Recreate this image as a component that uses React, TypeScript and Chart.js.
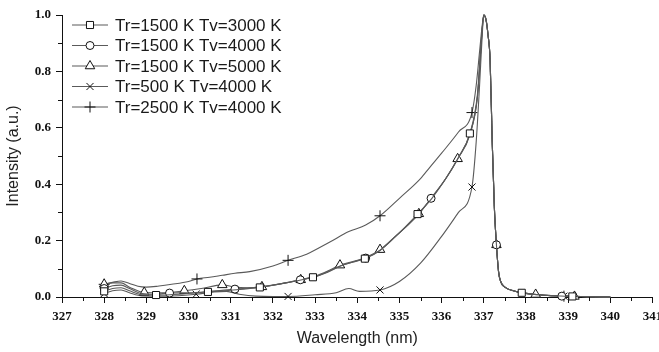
import React, { useEffect, useRef } from 'react';
import { Chart, registerables } from 'chart.js';
import { drawPoint } from 'chart.js/helpers';

Chart.register(...registerables);

type Pt = [number, number];

// Emission band profiles: [wavelength (nm), normalised intensity]
const seriesLabels = [
  'Tr=1500 K Tv=3000 K',
  'Tr=1500 K Tv=4000 K',
  'Tr=1500 K Tv=5000 K',
  'Tr=500 K Tv=4000 K',
  'Tr=2500 K Tv=4000 K',
];

// Shared steep red-side fall-off of the band head
const tailPts: Pt[] = [
  [337.05, 0.985], [337.1, 0.93], [337.15, 0.84], [337.2, 0.55], [337.25, 0.32],
  [337.3, 0.185], [337.35, 0.09], [337.4, 0.055], [337.5, 0.035], [337.7, 0.022],
  [338.0, 0.013], [338.3, 0.008], [338.6, 0.005], [339.3, 0.002], [339.6, 0.001], [340.0, 0],
];

const tr1500tv3000: Pt[] = [
  [328.0, 0.02], [328.2, 0.03], [328.4, 0.033], [328.6, 0.022], [328.9, 0.008],
  [329.23, 0.007], [329.8, 0.01], [330.46, 0.018], [331.0, 0.024], [331.69, 0.034],
  [332.3, 0.05], [332.95, 0.07], [333.3, 0.088], [333.6, 0.11], [333.9, 0.124],
  [334.18, 0.136], [334.54, 0.165], [334.9, 0.213], [335.43, 0.294], [335.77, 0.35],
  [336.1, 0.42], [336.4, 0.495], [336.67, 0.58], [336.85, 0.72], [336.95, 0.93],
  [337.0, 1.0], [337.9, 0.015], [339.1, 0.002],
];
const tr1500tv4000: Pt[] = [
  [328.0, 0.03], [328.2, 0.04], [328.4, 0.042], [328.6, 0.03], [328.9, 0.012],
  [329.2, 0.01], [329.55, 0.014], [330.0, 0.015], [330.5, 0.02], [331.1, 0.028],
  [331.6, 0.034], [332.0, 0.042], [332.3, 0.05], [332.65, 0.061], [333.0, 0.072],
  [333.3, 0.09], [333.6, 0.11], [333.9, 0.124], [334.2, 0.138], [334.54, 0.166],
  [334.9, 0.214], [335.2, 0.255], [335.45, 0.293], [335.75, 0.35], [336.1, 0.42],
  [336.4, 0.495], [336.67, 0.578], [336.85, 0.71], [336.95, 0.92], [337.0, 1.0],
  [338.85, 0.003],
];
const tr1500tv5000: Pt[] = [
  [328.0, 0.045], [328.2, 0.05], [328.4, 0.05], [328.6, 0.035], [328.95, 0.016],
  [329.4, 0.015], [329.9, 0.022], [330.3, 0.03], [330.8, 0.043], [331.1, 0.035],
  [331.4, 0.033], [331.74, 0.036], [332.0, 0.042], [332.3, 0.05], [332.66, 0.061],
  [333.0, 0.074], [333.3, 0.092], [333.59, 0.113], [333.9, 0.126], [334.2, 0.14],
  [334.54, 0.168], [334.9, 0.215], [335.2, 0.256], [335.46, 0.295], [335.75, 0.35],
  [336.1, 0.42], [336.38, 0.49], [336.67, 0.575], [336.85, 0.71], [336.95, 0.92],
  [337.0, 1.0], [338.23, 0.009], [339.15, 0.002],
];
const tr500tv4000: Pt[] = [
  [328.0, 0.012], [328.2, 0.022], [328.4, 0.025], [328.6, 0.015], [328.9, 0.004],
  [329.5, 0.003], [330.18, 0.01], [330.6, 0.018], [330.9, 0.02], [331.2, 0.01],
  [331.6, 0.003], [332.0, 0.002], [332.36, 0.002], [333.0, 0.008], [333.5, 0.015],
  [333.8, 0.03], [334.05, 0.02], [334.54, 0.025], [335.0, 0.055], [335.5, 0.12],
  [336.0, 0.215], [336.4, 0.3], [336.72, 0.39], [336.82, 0.55], [336.9, 0.75],
  [336.96, 0.92], [337.0, 1.0], [338.9, 0.003],
];
const tr2500tv4000: Pt[] = [
  [328.0, 0.045], [328.2, 0.052], [328.4, 0.057], [328.6, 0.048], [328.8, 0.038],
  [329.0, 0.035], [329.3, 0.039], [329.6, 0.045], [330.0, 0.055], [330.2, 0.064],
  [330.5, 0.07], [330.8, 0.077], [331.1, 0.084], [331.45, 0.09], [332.0, 0.11],
  [332.36, 0.13], [332.8, 0.152], [333.35, 0.195], [333.8, 0.232], [334.2, 0.255],
  [334.54, 0.288], [335.0, 0.35], [335.5, 0.42], [335.72, 0.46], [336.0, 0.51],
  [336.4, 0.585], [336.72, 0.654], [336.82, 0.75], [336.9, 0.87], [336.96, 0.96],
  [337.0, 1.0], [338.9, 0.003],
];

// Wavelengths carrying a symbol on each curve
const marks3000 = [328.0, 329.23, 330.46, 331.69, 332.95, 334.18, 335.43, 336.67, 337.9, 339.1];
const marks4000 = [328.0, 329.55, 331.1, 332.65, 334.2, 335.75, 337.3, 338.85];
const marks5000 = [328.0, 328.95, 329.9, 330.8, 331.74, 332.66, 333.59, 334.54, 335.46, 336.38, 337.3, 338.23, 339.15];
const marks500 = [328.0, 330.18, 332.36, 334.54, 336.72, 338.9];
const marks2500 = [328.0, 330.2, 332.36, 334.54, 336.72, 338.9];

const profiles = [tr1500tv3000, tr1500tv4000, tr1500tv5000, tr500tv4000, tr2500tv4000];
const markSets = [marks3000, marks4000, marks5000, marks500, marks2500];
const symbols = ['rect', 'circle', 'triangle', 'crossRot', 'cross'] as const;
const symbolSizes = [5, 4, 5.5, 5, 5.5];

const xTicks = { min: 327, max: 341, step: 1 };
const yTicks = { min: 0, max: 1, step: 0.2 };

const LINE = '#5a5a5a';
const INK = '#111';

function withTail(pts: Pt[]): Pt[] {
  return [...pts, ...tailPts].sort((a, b) => a[0] - b[0]);
}

export default function App() {
  const ref = useRef<HTMLCanvasElement>(null);

  useEffect(() => {
    const canvas = ref.current;
    if (!canvas) return;

    const datasets = profiles.map((pts, i) => {
      const marks = markSets[i];
      return {
        label: seriesLabels[i],
        data: withTail(pts).map(([x, y]) => ({ x, y })),
        borderColor: LINE,
        borderWidth: 1.1,
        cubicInterpolationMode: 'monotone' as const,
        fill: false,
        clip: false as const,
        pointStyle: symbols[i],
        pointRadius: (c: any) =>
          c.raw && marks.some((m) => Math.abs(m - c.raw.x) < 1e-6) ? symbolSizes[i] : 0,
        pointHoverRadius: 0,
        pointBorderColor: INK,
        pointBackgroundColor: '#fff',
        pointBorderWidth: 1,
      };
    });

    const axisExtras = {
      id: 'axisExtras',
      afterDraw(chart: any) {
        const { ctx, chartArea, scales } = chart;
        ctx.save();
        // minor ticks
        ctx.strokeStyle = INK;
        ctx.lineWidth = 1;
        ctx.beginPath();
        for (let v = xTicks.min + 0.5; v < xTicks.max; v += 1) {
          const px = Math.round(scales.x.getPixelForValue(v)) + 0.5;
          ctx.moveTo(px, chartArea.bottom);
          ctx.lineTo(px, chartArea.bottom + 4);
        }
        for (let v = 0.1; v < yTicks.max; v += 0.2) {
          const py = Math.round(scales.y.getPixelForValue(v)) + 0.5;
          ctx.moveTo(chartArea.left, py);
          ctx.lineTo(chartArea.left - 4, py);
        }
        ctx.stroke();

        // key
        seriesLabels.forEach((label, i) => {
          const y = 25 + i * 20.5;
          ctx.strokeStyle = LINE;
          ctx.lineWidth = 1.1;
          ctx.beginPath();
          ctx.moveTo(72, y);
          ctx.lineTo(108, y);
          ctx.stroke();
          ctx.strokeStyle = INK;
          ctx.fillStyle = '#fff';
          ctx.lineWidth = 1;
          drawPoint(ctx, { pointStyle: symbols[i], radius: symbolSizes[i], rotation: 0, borderWidth: 1 } as any, 90, y);
          ctx.fillStyle = '#1a1a1a';
          ctx.font = '17px "Liberation Sans", Arial, sans-serif';
          ctx.textBaseline = 'middle';
          ctx.textAlign = 'left';
          ctx.fillText(label, 115, y + 1);
        });
        ctx.restore();
      },
    };

    const tickFont = { family: '"Liberation Serif", "Times New Roman", serif', weight: 'bold' as const, size: 13 };
    const titleFont = { family: '"Liberation Sans", Arial, sans-serif', size: 16 };

    const chart = new Chart(canvas, {
      type: 'line',
      data: { datasets },
      options: {
        animation: false,
        responsive: false,
        devicePixelRatio: 1,
        events: [],
        layout: { padding: { top: 15, right: 6, left: 0, bottom: 0 } },
        plugins: {
          legend: { display: false },
          tooltip: { enabled: false },
        },
        scales: {
          x: {
            type: 'linear',
            min: xTicks.min,
            max: xTicks.max,
            ticks: {
              stepSize: xTicks.step,
              color: INK,
              font: tickFont,
              padding: 6,
              maxRotation: 0,
              autoSkip: false,
            },
            grid: { drawOnChartArea: false, drawTicks: true, tickLength: 6, tickColor: INK, tickWidth: 1 },
            border: { display: true, color: INK, width: 1 },
            title: {
              display: true,
              text: 'Wavelength (nm)',
              font: titleFont,
              color: '#222',
              padding: { top: 4, bottom: 4 },
            },
            afterFit: (s: any) => {
              s.height = 55;
              s.paddingLeft = 0;
              s.paddingRight = 0;
            },
          },
          y: {
            type: 'linear',
            min: yTicks.min,
            max: yTicks.max,
            ticks: {
              stepSize: yTicks.step,
              color: INK,
              font: tickFont,
              padding: 5,
              callback: (v: any) => Number(v).toFixed(1),
            },
            grid: { drawOnChartArea: false, drawTicks: true, tickLength: 6, tickColor: INK, tickWidth: 1 },
            border: { display: true, color: INK, width: 1 },
            title: {
              display: true,
              text: 'Intensity (a.u.)',
              font: titleFont,
              color: '#222',
              padding: { top: 4, bottom: 4 },
            },
            afterFit: (s: any) => {
              s.width = 62;
              s.paddingTop = 0;
              s.paddingBottom = 0;
            },
          },
        },
      },
      plugins: [axisExtras],
    } as any);

    return () => chart.destroy();
  }, []);

  return (
    <div style={{ position: 'absolute', left: 0, top: 0, width: 659, height: 352, background: '#fff' }}>
      <canvas ref={ref} width={659} height={352} style={{ display: 'block', width: 659, height: 352 }} />
    </div>
  );
}
